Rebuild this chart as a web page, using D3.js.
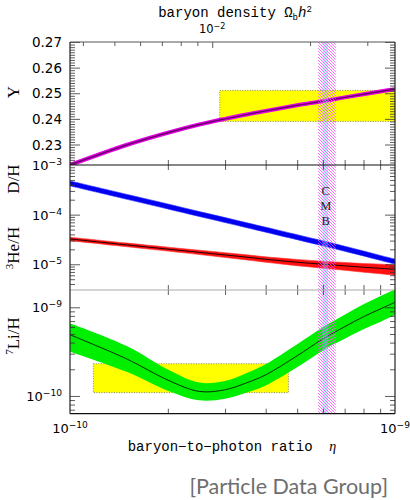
<!DOCTYPE html>
<html>
<head>
<meta charset="utf-8">
<script src="https://cdn.jsdelivr.net/npm/d3@7/dist/d3.min.js"></script>
<style>
  body { margin: 0; background: #fff; }
</style>
</head>
<body>
<svg id="chart"></svg>
<script>
// eta in units of 1e-10
const eta10 = [1, 1.5, 2, 2.5, 3, 3.5, 4, 5, 6, 7, 8, 9, 10];

// helium-4 mass fraction Y
const heliumY = [0.2220, 0.2299, 0.2346, 0.2378, 0.2400, 0.2417, 0.2431, 0.2453, 0.2469, 0.2484, 0.2496, 0.2507, 0.2516];

// D/H band
const deutMid = [4.27e-4, 2.28e-4, 1.46e-4, 1.03e-4, 7.78e-5, 6.12e-5, 4.98e-5, 3.52e-5, 2.64e-5, 2.06e-5, 1.65e-5, 1.35e-5, 1.13e-5];
const deutHi  = [4.78e-4, 2.55e-4, 1.64e-4, 1.15e-4, 8.71e-5, 6.85e-5, 5.58e-5, 3.94e-5, 2.96e-5, 2.31e-5, 1.85e-5, 1.51e-5, 1.27e-5];
const deutLo  = [3.80e-4, 2.03e-4, 1.30e-4, 9.17e-5, 6.92e-5, 5.45e-5, 4.43e-5, 3.13e-5, 2.35e-5, 1.83e-5, 1.47e-5, 1.20e-5, 1.01e-5];

// 3He/H band
const he3Mid = [3.24e-5, 2.45e-5, 2.02e-5, 1.74e-5, 1.54e-5, 1.39e-5, 1.26e-5, 1.10e-5, 1.00e-5, 9.3e-6, 8.7e-6, 8.3e-6, 7.9e-6];
const he3Hi  = [3.51e-5, 2.67e-5, 2.21e-5, 1.92e-5, 1.71e-5, 1.55e-5, 1.41e-5, 1.25e-5, 1.15e-5, 1.087e-5, 1.034e-5, 1.005e-5, 9.72e-6];
const he3Lo  = [2.99e-5, 2.25e-5, 1.84e-5, 1.57e-5, 1.37e-5, 1.22e-5, 1.10e-5, 9.36e-6, 8.32e-6, 7.56e-6, 6.91e-6, 6.44e-6, 6.0e-6];

// 7Li/H band
const li7Mid = [4.90e-10, 2.60e-10, 1.51e-10, 1.125e-10, 1.175e-10, 1.41e-10, 1.73e-10, 2.84e-10, 4.40e-10, 6.04e-10, 7.83e-10, 9.55e-10, 1.14e-9];
const li7Hi  = [6.61e-10, 3.63e-10, 1.99e-10, 1.416e-10, 1.479e-10, 1.816e-10, 2.28e-10, 3.83e-10, 5.94e-10, 8.24e-10, 1.081e-9, 1.333e-9, 1.59e-9];
const li7Lo  = [3.16e-10, 1.86e-10, 1.146e-10, 8.94e-11, 9.33e-11, 1.095e-10, 1.313e-10, 2.105e-10, 3.26e-10, 4.42e-10, 5.67e-10, 6.84e-10, 8.17e-10];

// observed boxes
const heObsEta = [2.89, 10];
const heObsY = [0.2390, 0.2511];
const liObsEta = [1.18, 4.70];
const liObsVal = [1.09e-10, 2.31e-10];

// CMB band
const cmbEta = [5.80, 6.57];
const cmbCoreEta = [5.98, 6.23];

// top axis: baryon density Omega_b h^2
const omegaMinor = [0.004, 0.005, 0.006, 0.007, 0.008, 0.009, 0.02, 0.03];
const omegaMajor = [0.01];
const etaPerOmega = 273.9; // eta10 = 273.9 * Omega_b h^2

const yTicks = [0.23, 0.24, 0.25, 0.26, 0.27];
const midTicks = [[1e-3, '-3'], [1e-4, '-4'], [1e-5, '-5']];
const liTicks = [[1e-9, '-9'], [1e-10, '-10']];
const xTicks = [[1, '-10'], [10, '-9']];

const width = 410, height = 500;
const left = 70, right = 395;
const top1 = 42, top2 = 165, top3 = 290, bottom = 413.7;

const svg = d3.select('#chart')
  .attr('width', width)
  .attr('height', height)
  .style('font-family', 'DejaVu Sans, sans-serif');

const x = d3.scaleLog().domain([1, 10]).range([left, right]);
const omega = d3.scaleLog().domain([1 / etaPerOmega, 10 / etaPerOmega]).range([left, right]);
const yY = d3.scaleLinear().domain([0.222, 0.27]).range([top2, top1]);
const yM = d3.scaleLog().domain([3.03e-6, 1e-3]).range([top3, top2]);
const yL = d3.scaleLog().domain([6.31e-11, 1.567e-9]).range([bottom, top3]);

const defs = svg.append('defs');
[['clipY', top1, top2], ['clipM', top2, top3], ['clipL', top3, bottom]].forEach(([id, a, b]) => {
  defs.append('clipPath').attr('id', id)
    .append('rect').attr('x', left).attr('y', a).attr('width', right - left).attr('height', b - a);
});

const hatch = (id, color, off, w) => {
  const p = defs.append('pattern').attr('id', id)
    .attr('patternUnits', 'userSpaceOnUse')
    .attr('width', 3).attr('height', 3)
    .attr('patternTransform', `translate(${off},0)`);
  p.append('path')
    .attr('d', 'M-1,-1L4,4M-1,2L1,4M2,-1L4,1')
    .attr('stroke', color).attr('stroke-width', w);
};
hatch('hatchM', '#ff4dff', 0, 0.8);
hatch('hatchC', '#4fd8ff', 1.5, 0.8);

const rows = eta10.map((e, i) => ({
  e,
  y: heliumY[i],
  dMid: deutMid[i], dHi: deutHi[i], dLo: deutLo[i],
  hMid: he3Mid[i], hHi: he3Hi[i], hLo: he3Lo[i],
  lMid: li7Mid[i], lHi: li7Hi[i], lLo: li7Lo[i],
}));

const curve = d3.curveCatmullRom.alpha(0.5);
const band = (ys, lo, hi) => d3.area()
  .x(d => x(d.e))
  .y0(d => ys(d[lo]))
  .y1(d => ys(d[hi]))
  .curve(curve);
const line = (ys, key) => d3.line()
  .x(d => x(d.e))
  .y(d => ys(d[key]))
  .curve(curve);

const obsBox = (g, xs, ys, ex, ev) => {
  g.append('rect')
    .attr('x', xs(ex[0]))
    .attr('y', ys(ev[1]))
    .attr('width', xs(ex[1]) - xs(ex[0]))
    .attr('height', ys(ev[0]) - ys(ev[1]))
    .attr('fill', '#ffff00')
    .attr('stroke', '#666')
    .attr('stroke-width', 0.8)
    .attr('stroke-dasharray', '1,1.5');
};

// helium panel
const gY = svg.append('g').attr('clip-path', 'url(#clipY)');
obsBox(gY, x, yY, heObsEta, heObsY);
gY.append('path').datum(rows)
  .attr('d', line(yY, 'y'))
  .attr('fill', 'none').attr('stroke', '#e600e6').attr('stroke-width', 4);
gY.append('path').datum(rows)
  .attr('d', line(yY, 'y'))
  .attr('fill', 'none').attr('stroke', '#6a006a').attr('stroke-width', 1.4);

// D and 3He panel
const gM = svg.append('g').attr('clip-path', 'url(#clipM)');
gM.append('path').datum(rows)
  .attr('d', band(yM, 'dLo', 'dHi'))
  .attr('fill', '#0000f0').attr('stroke', '#2020ff').attr('stroke-width', 0.6);
gM.append('path').datum(rows)
  .attr('d', band(yM, 'hLo', 'hHi'))
  .attr('fill', '#ff1010').attr('stroke', '#ff3030').attr('stroke-width', 0.6);
gM.append('path').datum(rows)
  .attr('d', line(yM, 'hMid'))
  .attr('fill', 'none').attr('stroke', '#000').attr('stroke-width', 0.9);

// lithium panel
const gL = svg.append('g').attr('clip-path', 'url(#clipL)');
obsBox(gL, x, yL, liObsEta, liObsVal);
gL.append('path').datum(rows)
  .attr('d', band(yL, 'lLo', 'lHi'))
  .attr('fill', '#00ee00');
gL.append('path').datum(rows)
  .attr('d', line(yL, 'lMid'))
  .attr('fill', 'none').attr('stroke', '#000').attr('stroke-width', 0.8);

// CMB band over all panels
svg.append('rect')
  .attr('x', x(cmbEta[0])).attr('y', top1)
  .attr('width', x(cmbEta[1]) - x(cmbEta[0])).attr('height', bottom - top1)
  .attr('fill', 'url(#hatchM)');
svg.append('rect')
  .attr('x', x(cmbCoreEta[0])).attr('y', top1)
  .attr('width', x(cmbCoreEta[1]) - x(cmbCoreEta[0])).attr('height', bottom - top1)
  .attr('fill', 'url(#hatchC)');

['C', 'M', 'B'].forEach((c, i) => {
  svg.append('text')
    .attr('x', x(6.12)).attr('y', 195 + i * 15.2)
    .attr('text-anchor', 'middle')
    .style('font-family', 'Liberation Serif, serif')
    .style('font-size', '12.5px')
    .attr('fill', '#222')
    .text(c);
});

// ticks
const tickStyle = g => {
  g.select('.domain').remove();
  g.selectAll('.tick line').attr('stroke', '#333').attr('stroke-width', 0.8);
};

const vAxis = (scale, minor, major, minorLen, majorLen) => {
  [[minor, minorLen], [major, majorLen]].forEach(([vals, len]) => {
    svg.append('g').attr('transform', `translate(${left},0)`)
      .call(d3.axisRight(scale).tickValues(vals).tickSize(len).tickFormat(''))
      .call(tickStyle);
    svg.append('g').attr('transform', `translate(${right},0)`)
      .call(d3.axisLeft(scale).tickValues(vals).tickSize(len).tickFormat(''))
      .call(tickStyle);
  });
};

const yMinor = d3.range(223, 271).map(v => v / 1000).filter(v => !yTicks.some(t => Math.abs(t - v) < 1e-6));
vAxis(yY, yMinor, yTicks, 5, 10);

const logMinor = (scale, majors) => scale.ticks().filter(v => !majors.some(m => Math.abs(m - v) / m < 1e-6));
vAxis(yM, logMinor(yM, midTicks.map(d => d[0])), midTicks.map(d => d[0]).filter(v => v < 1e-3), 5, 10);
vAxis(yL, logMinor(yL, liTicks.map(d => d[0])), liTicks.map(d => d[0]), 5, 10);

const etaMinor = [2, 3, 4, 5, 6, 7, 8, 9];
[top2, top3].forEach(yy => {
  svg.append('g').attr('transform', `translate(0,${yy})`)
    .call(d3.axisTop(x).tickValues(etaMinor).tickSize(5).tickFormat(''))
    .call(tickStyle);
  svg.append('g').attr('transform', `translate(0,${yy})`)
    .call(d3.axisBottom(x).tickValues(etaMinor).tickSize(5).tickFormat(''))
    .call(tickStyle);
});
svg.append('g').attr('transform', `translate(0,${bottom})`)
  .call(d3.axisTop(x).tickValues(etaMinor).tickSize(5).tickFormat(''))
  .call(tickStyle);
svg.append('g').attr('transform', `translate(0,${top1})`)
  .call(d3.axisBottom(omega).tickValues(omegaMinor).tickSize(4).tickFormat(''))
  .call(tickStyle);
svg.append('g').attr('transform', `translate(0,${top1})`)
  .call(d3.axisBottom(omega).tickValues(omegaMajor).tickSize(6).tickFormat(''))
  .call(tickStyle);

// frame
const hLine = (yy, color) => svg.append('line')
  .attr('x1', left).attr('x2', right).attr('y1', yy).attr('y2', yy)
  .attr('stroke', color).attr('stroke-width', 1.2);
hLine(top1, '#555');
hLine(top2, '#111');
hLine(top3, '#aaa');
hLine(bottom, '#111');
[left, right].forEach(xx => svg.append('line')
  .attr('x1', xx).attr('x2', xx).attr('y1', top1).attr('y2', bottom)
  .attr('stroke', '#222').attr('stroke-width', 1.2));

// tick labels
svg.selectAll('.ylab').data(yTicks).join('text')
  .attr('x', 62).attr('y', d => yY(d) + 5)
  .attr('text-anchor', 'end')
  .style('font-size', '13.5px')
  .text(d3.format('.2f'));

const powLabel = (xx, yy, exp, anchor, size) => {
  const t = svg.append('text')
    .attr('x', xx).attr('y', yy)
    .attr('text-anchor', anchor)
    .style('font-size', `${size}px`);
  t.append('tspan').text('10');
  t.append('tspan').attr('dy', -size * 0.38).style('font-size', `${size * 0.7}px`).text('\u2212' + exp.slice(1));
};
midTicks.forEach(([v, e]) => powLabel(62, yM(v) + 5, e, 'end', 13));
liTicks.forEach(([v, e]) => powLabel(62, yL(v) + 5, e, 'end', 13));
xTicks.forEach(([v, e]) => powLabel(x(v), 433, e, 'middle', 13));
powLabel(omega(omegaMajor[0]), 33, '-2', 'middle', 11.5);

// axis titles
const mono = 'Liberation Mono, DejaVu Sans Mono, monospace';
const topTitle = svg.append('text')
  .attr('x', 235).attr('y', 17)
  .attr('text-anchor', 'middle')
  .style('font-family', mono)
  .style('font-size', '14px');
topTitle.append('tspan').text('baryon density \u03A9');
topTitle.append('tspan').attr('dy', 2.5).style('font-size', '9px').text('b');
topTitle.append('tspan').attr('dy', -2.5).style('font-style', 'italic').text('h');
topTitle.append('tspan').attr('dy', -5).style('font-size', '9px').text('2');

const xt = svg.append('text')
  .attr('x', 232).attr('y', 451)
  .attr('text-anchor', 'middle')
  .style('font-family', mono)
  .style('font-size', '14px')
  .attr('xml:space', 'preserve');
xt.append('tspan').text('baryon\u2212to\u2212photon ratio  ');
xt.append('tspan').style('font-family', 'Liberation Serif, serif').style('font-style', 'italic').text('\u03B7');

const serif = 'Liberation Serif, serif';
const yTitle = (yy, sup, main) => {
  const t = svg.append('text')
    .attr('transform', `translate(19,${yy}) rotate(-90)`)
    .attr('text-anchor', 'middle')
    .style('font-family', serif)
    .style('font-size', '17px');
  if (sup) t.append('tspan').attr('dy', -6).style('font-size', '11px').text(sup);
  t.append('tspan').attr('dy', sup ? 6 : 0).text(main);
};
yTitle(92, null, 'Y');
yTitle(179, null, 'D/H');
yTitle(248, '3', 'He/H');
yTitle(336, '7', 'Li/H');

svg.append('text')
  .attr('x', 388).attr('y', 494)
  .attr('text-anchor', 'end')
  .style('font-family', 'Lato, Noto Sans, sans-serif')
  .style('font-size', '21.5px')
  .attr('fill', '#6e6e6e')
  .text('[Particle Data Group]');
</script>
</body>
</html>
